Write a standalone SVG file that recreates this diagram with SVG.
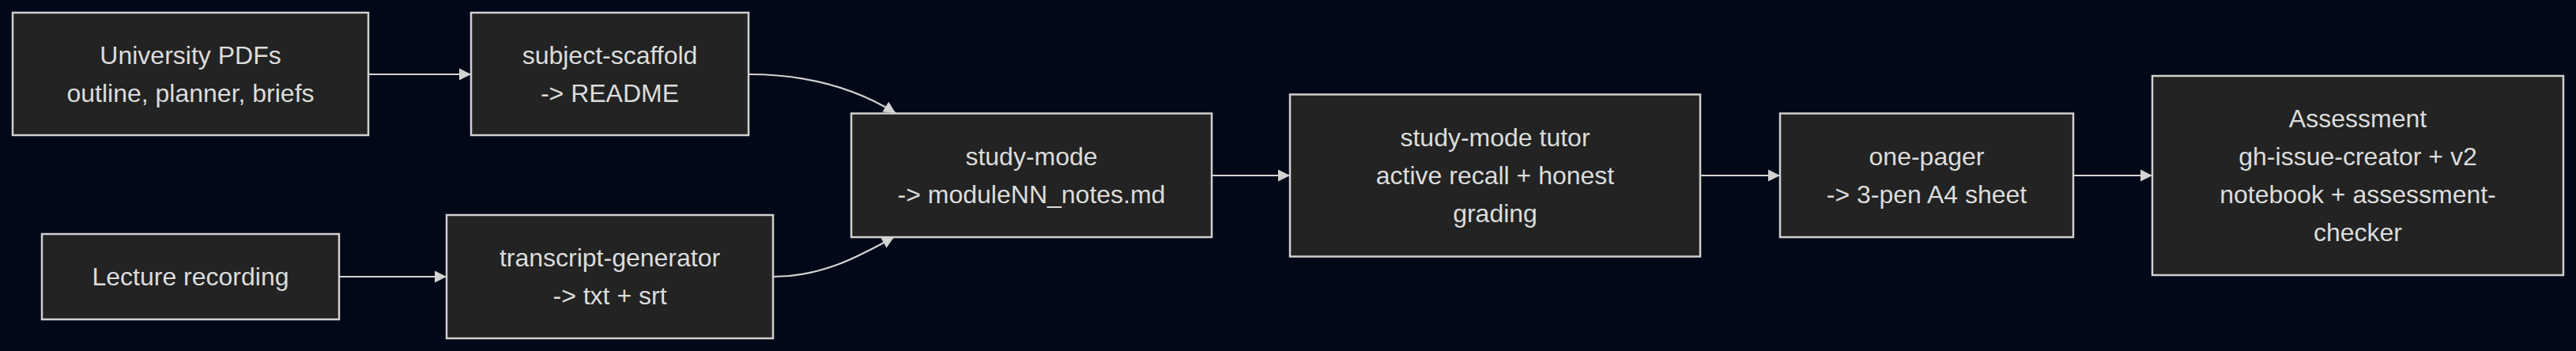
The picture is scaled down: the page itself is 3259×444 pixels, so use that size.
<svg xmlns="http://www.w3.org/2000/svg" width="3259" height="444" viewBox="0 0 3259 444">
<style>
.bg{fill:#020817}
.node rect{fill:#222322;stroke:#d0d0d0;stroke-width:2.5}
.node text{fill:#dcdcdc;font-family:"Liberation Sans",Arial,sans-serif;font-size:32px;text-anchor:middle;dominant-baseline:central}
.edge{fill:none;stroke:#d3d3d3;stroke-width:2.2}
</style>
<defs>
<marker id="arrow" viewBox="0 0 10 10" refX="10" refY="5" markerUnits="userSpaceOnUse" markerWidth="15" markerHeight="16" orient="auto">
<path d="M0 0 L10 5 L0 10 z" fill="#d3d3d3"/>
</marker>
</defs>
<rect class="bg" x="0" y="0" width="3259" height="444"/>
<g id="connectors">
<path class="edge" d="M466 94 L596 94" marker-end="url(#arrow)"/>
<path class="edge" d="M429 350 L565 350" marker-end="url(#arrow)"/>
<path class="edge" d="M947 94 C1020 94 1080 110 1133 143" marker-end="url(#arrow)"/>
<path class="edge" d="M978 350 C1040 350 1085 325 1131 300" marker-end="url(#arrow)"/>
<path class="edge" d="M1533 222 L1632 222" marker-end="url(#arrow)"/>
<path class="edge" d="M2151 222 L2252 222" marker-end="url(#arrow)"/>
<path class="edge" d="M2623 222 L2723 222" marker-end="url(#arrow)"/>
</g>
<g id="node-pdfs" class="node">
<rect x="16" y="16" width="450" height="155"/>
<text x="241" y="69.5">University PDFs</text>
<text x="241" y="117.5">outline, planner, briefs</text>
</g>
<g id="node-scaffold" class="node">
<rect x="596" y="16" width="351" height="155"/>
<text x="771.5" y="69.5">subject-scaffold</text>
<text x="771.5" y="117.5">-&gt; README</text>
</g>
<g id="node-lecture" class="node">
<rect x="53" y="296" width="376" height="108"/>
<text x="241" y="350">Lecture recording</text>
</g>
<g id="node-transcript" class="node">
<rect x="565" y="272" width="413" height="156"/>
<text x="771.5" y="326">transcript-generator</text>
<text x="771.5" y="374">-&gt; txt + srt</text>
</g>
<g id="node-studymode" class="node">
<rect x="1077" y="143.5" width="456" height="156.5"/>
<text x="1305" y="198">study-mode</text>
<text x="1305" y="246">-&gt; moduleNN_notes.md</text>
</g>
<g id="node-tutor" class="node">
<rect x="1632" y="119.5" width="519" height="205"/>
<text x="1891.5" y="174">study-mode tutor</text>
<text x="1891.5" y="222">active recall + honest</text>
<text x="1891.5" y="270">grading</text>
</g>
<g id="node-onepager" class="node">
<rect x="2252" y="143.5" width="371" height="156.5"/>
<text x="2437.5" y="198">one-pager</text>
<text x="2437.5" y="246">-&gt; 3-pen A4 sheet</text>
</g>
<g id="node-assessment" class="node">
<rect x="2723" y="96" width="520" height="252"/>
<text x="2983" y="150">Assessment</text>
<text x="2983" y="198">gh-issue-creator + v2</text>
<text x="2983" y="246">notebook + assessment-</text>
<text x="2983" y="294">checker</text>
</g>
</svg>
